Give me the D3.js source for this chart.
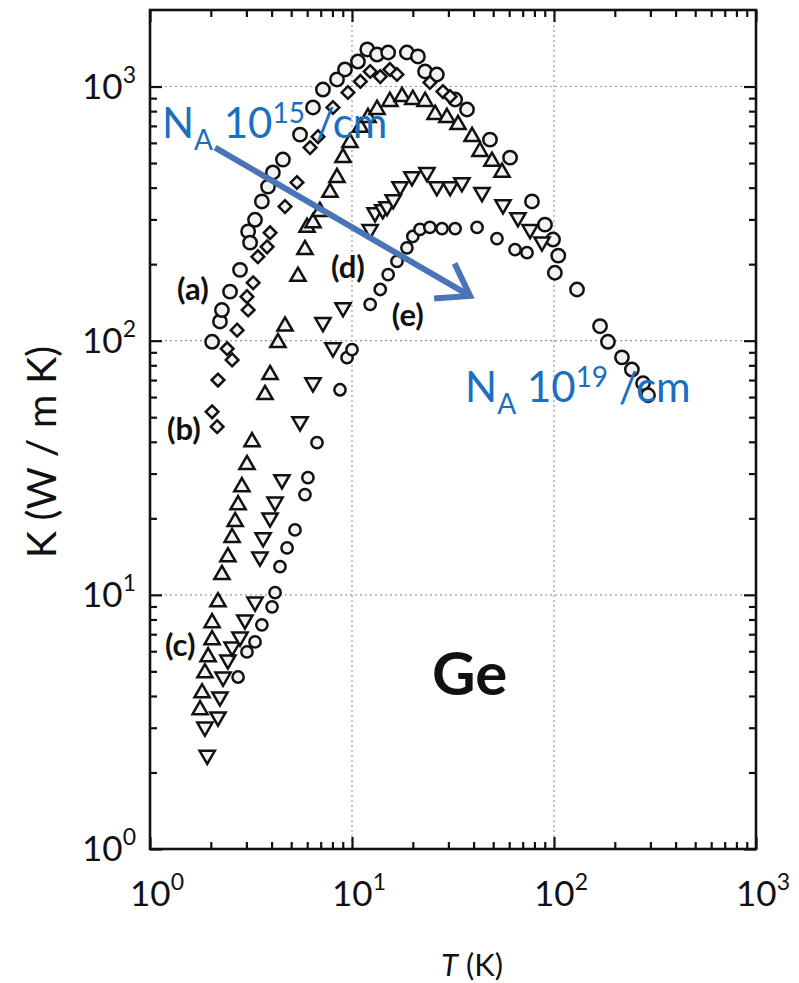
<!DOCTYPE html>
<html>
<head>
<meta charset="utf-8">
<script src="https://cdn.jsdelivr.net/npm/d3@7"></script>
<style>
body{margin:0;background:#fff;}
svg{display:block;font-family:Lato,"DejaVu Sans",sans-serif;}
</style>
</head>
<body>
<div id="chart"></div>
<script>
// each point is [T (K), kappa (W/mK)]
// (a) pure sample, open circles
const seriesA = [[2.03,99],[2.22,119],[2.27,132],[2.49,156],[2.79,190],[3.06,269],[3.13,243],[3.31,299],
  [3.58,353],[3.84,404],[4.06,459],[4.55,516],[5.53,647],[6.41,827],[7.18,973],[8.43,1066],[9.23,1167],
  [10.7,1254],[11.9,1399],[13.3,1336],[15.1,1361],[18.7,1361],[21.2,1313],[23.0,1146],[26.3,1115],
  [32.4,889],[37.1,812],[48.2,618],[60.6,525],[77.8,353],[90.2,286],[98.9,250],[105,216],[101,185],
  [130,159],[169,114],[185,99],[217,86],[243,77],[276,68],[292,61]];
// (b) diamonds
const seriesB = [[2.03,52.5],[2.15,45.9],[2.17,70],[2.55,84],[2.41,93],[2.70,110],[3.06,132],[3.02,149],
  [3.24,169],[3.42,214],[3.80,234],[3.93,266],[4.66,337],[5.34,419],[6.20,575],[6.79,635],[8.05,827],
  [9.55,947],[11.0,1047],[12.3,1146],[13.8,1094],[15.4,1167],[16.7,1115],[24.3,1037],[28.2,955],[30.6,913]];
// (c) up triangles
const seriesC = [[1.77,3.53],[1.81,4.11],[1.87,4.93],[1.94,5.70],[2.03,6.65],[2.03,7.76],[2.17,9.38],
  [2.27,12.0],[2.43,14.1],[2.55,16.8],[2.64,19.4],[2.73,22.6],[2.85,26.6],[3.02,32.5],[3.20,40.0],
  [3.71,61.3],[3.93,73.5],[4.30,98.2],[4.66,114],[5.40,179],[5.85,228],[5.99,279],[6.41,291],[6.94,322],
  [7.78,383],[8.43,438],[9.03,525],[9.77,602],[11.0,690],[12.0,755],[13.3,812],[15.4,873],[17.7,913],
  [20.0,889],[23.0,873],[25.8,776],[29.5,755],[33.5,708],[39.3,635],[43.0,555],[49.3,507],[55.3,459]];
// (d) down triangles
const seriesD = [[1.92,2.34],[1.87,3.02],[2.17,3.31],[2.22,3.97],[2.30,4.75],[2.43,5.55],[2.55,6.24],
  [2.79,6.83],[2.95,7.97],[3.31,9.38],[3.50,14.1],[3.63,16.8],[3.93,20.1],[4.16,23.2],[4.50,28.4],
  [5.53,48.0],[6.41,68.3],[8.05,93.8],[7.18,118],[9.03,135],[12.3,274],[13.0,319],[14.2,328],[14.9,337],
  [16.0,359],[17.3,404],[19.8,442],[23.5,459],[26.3,404],[30.6,404],[35.0,419],[44.0,383],[55.9,343],
  [66.3,305],[76.1,274],[87.2,245]];
// (e) small circles
const seriesE = [[2.73,4.75],[3.02,5.96],[3.31,6.53],[3.58,7.62],[4.02,8.97],[4.16,10.2],[4.40,12.9],
  [4.77,15.3],[5.22,18.0],[5.85,24.8],[6.05,28.9],[6.71,39.7],[8.72,64.1],[9.45,85.7],[10.0,92.2],
  [12.3,139],[13.8,159],[15.1,182],[16.7,205],[18.7,232],[20.0,257],[21.7,274],[24.3,279],[27.9,276],
  [32.4,276],[41.6,279],[52.2,252],[64.1,228],[73.5,222]];

const xTickExps = [0,1,2,3];
const yTickExps = [0,1,2,3];
const curveNames = ["(a)","(b)","(c)","(d)","(e)"];

const W = 799, H = 983;
const svg = d3.select("#chart").append("svg")
  .attr("width", W).attr("height", H);

//scales
const x = d3.scaleLog().domain([1,1000]).range([150,756]);
const y = d3.scaleLog().domain([1,2000]).range([849,10]);

//grid lines at decades
const grid = svg.append("g").attr("stroke","#999").attr("stroke-width",1.2)
  .attr("stroke-dasharray","2,3");
[10,100].forEach(v => grid.append("line")
  .attr("x1",x(v)).attr("x2",x(v)).attr("y1",y.range()[1]).attr("y2",y.range()[0]));
[10,100,1000].forEach(v => grid.append("line")
  .attr("y1",y(v)).attr("y2",y(v)).attr("x1",x.range()[0]).attr("x2",x.range()[1]));

//tick values
const minorX = [], minorY = [];
[1,10,100].forEach(d => { for (let k=2;k<10;k++) { minorX.push(k*d); minorY.push(k*d); } });
const majorX = xTickExps.map(e => Math.pow(10,e));
const majorY = yTickExps.map(e => Math.pow(10,e));

function addAxis(axisFn, scale, vals, size, tx, ty) {
  const g = svg.append("g")
    .attr("transform",`translate(${tx},${ty})`)
    .call(axisFn(scale).tickValues(vals).tickSize(-size).tickFormat(""));
  g.select(".domain").remove();
  g.selectAll("line").attr("stroke","#111").attr("stroke-width",2.2);
}
[[minorX,7],[majorX,12]].forEach(([v,s]) => {
  addAxis(d3.axisBottom, x, v, s, 0, y.range()[0]);
  addAxis(d3.axisTop, x, v, s, 0, y.range()[1]);
});
[[minorY,7],[majorY,12]].forEach(([v,s]) => {
  addAxis(d3.axisLeft, y, v, s, x.range()[0], 0);
  addAxis(d3.axisRight, y, v, s, x.range()[1], 0);
});

//frame
svg.append("rect")
  .attr("x",x.range()[0]).attr("y",y.range()[1])
  .attr("width",x.range()[1]-x.range()[0]).attr("height",y.range()[0]-y.range()[1])
  .attr("fill","none").attr("stroke","#111").attr("stroke-width",2.6);

//tick labels 10^n
xTickExps.forEach(e => {
  const t = svg.append("text").attr("x",x(Math.pow(10,e))+7).attr("y",906)
    .attr("text-anchor","middle").attr("fill","#111");
  t.append("tspan").attr("font-size",35).text("10");
  t.append("tspan").attr("font-size",23).attr("dy",-16).text(e);
});
yTickExps.forEach(e => {
  const t = svg.append("text").attr("x",136).attr("y",y(Math.pow(10,e))+12)
    .attr("text-anchor","end").attr("fill","#111");
  t.append("tspan").attr("font-size",35).text("10");
  t.append("tspan").attr("font-size",23).attr("dy",-16).text(e);
});

//axis titles
const xt = svg.append("text").attr("x",472).attr("y",976)
  .attr("text-anchor","middle").attr("font-size",31).attr("fill","#111");
xt.append("tspan").attr("font-style","italic").text("T");
xt.append("tspan").text(" (K)");
svg.append("text")
  .attr("transform","translate(56,452) rotate(-90)")
  .attr("text-anchor","middle").attr("font-size",41).attr("fill","#111")
  .text("K (W / m K)");

//markers
const place = s => d => `translate(${x(d[0])},${y(d[1])}) rotate(${s.rot})`;
const seriesList = [
  {data:seriesA, type:d3.symbolCircle, size:140, rot:0},
  {data:seriesB, type:d3.symbolSquare, size:80, rot:45},
  {data:seriesC, type:d3.symbolTriangle, size:100, rot:0},
  {data:seriesD, type:d3.symbolTriangle, size:100, rot:180},
  {data:seriesE, type:d3.symbolCircle, size:100, rot:0}
];
seriesList.forEach(s => {
  svg.append("g").selectAll("path")
    .data(s.data)
    .enter()
    .append("path")
    .attr("d", d3.symbol().type(s.type).size(s.size))
    .attr("transform", place(s))
    .attr("fill","#f2f2f2").attr("stroke","#111").attr("stroke-width",2.5);
});

//curve labels
const labelPos = [[1.63,145],[1.47,40.8],[1.41,5.75],[9.55,177],[18.9,114]];
curveNames.forEach((n,i) => {
  svg.append("text")
    .attr("x",x(labelPos[i][0])).attr("y",y(labelPos[i][1]))
    .attr("text-anchor","middle").attr("font-size",31).attr("font-weight","bold")
    .attr("fill","#111").text(n);
});

svg.append("text").attr("x",x(24.9)).attr("y",y(4.04))
  .attr("font-size",60).attr("font-weight","bold").attr("fill","#111").text("Ge");

//doping annotation: arrow
const p0 = [x(2.10), y(575)], p1 = [x(38.4), y(150)];
const ang = Math.atan2(p1[1]-p0[1], p1[0]-p0[0]);
const head = [ang+Math.PI-0.6, ang+Math.PI+0.6].map(a => [p1[0]+36*Math.cos(a), p1[1]+36*Math.sin(a)]);
svg.append("line")
  .attr("x1",p0[0]).attr("y1",p0[1]).attr("x2",p1[0]).attr("y2",p1[1])
  .attr("stroke","#4a74b8").attr("stroke-width",6);
svg.append("path")
  .attr("d",`M${head[0]}L${p1}L${head[1]}`)
  .attr("fill","none").attr("stroke","#4a74b8").attr("stroke-width",6)
  .attr("stroke-linejoin","miter");

function naLabel(T, K, exp) {
  const t = svg.append("text").attr("x",x(T)).attr("y",y(K)).attr("fill","#1a6fc0");
  t.append("tspan").attr("font-size",42).text("N");
  t.append("tspan").attr("font-size",28).attr("dy",12).text("A");
  t.append("tspan").attr("font-size",42).attr("dy",-12).text(" 10");
  t.append("tspan").attr("font-size",28).attr("dy",-15).text(exp);
  t.append("tspan").attr("font-size",42).attr("dy",15).text(" /cm");
}
naLabel(1.146, 630, "15");
naLabel(36.3, 57.5, "19");
</script>
</body>
</html>
